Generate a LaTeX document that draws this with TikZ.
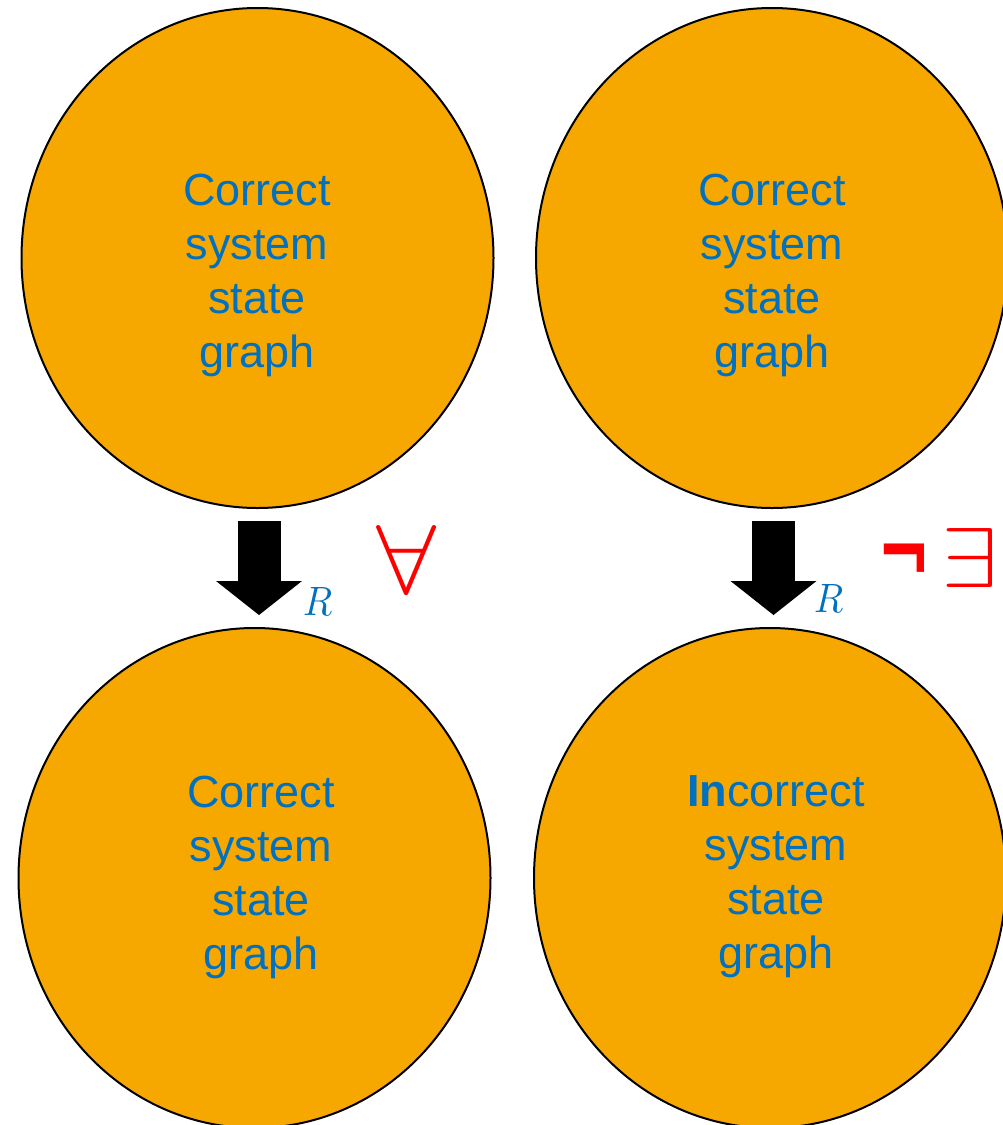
\documentclass[tikz,border=0pt]{standalone}
\usepackage{fontspec}
\setmainfont{Liberation Sans}
\newfontfamily\djv{DejaVu Sans}
\usepackage{graphicx}
\usetikzlibrary{shapes.geometric,arrows.meta}
\definecolor{orfill}{RGB}{246,168,0}
\definecolor{txtblue}{RGB}{0,112,192}
\definecolor{sigred}{RGB}{255,0,0}
\tikzset{
  stategraph/.style={ellipse,draw=black,line width=2pt,fill=orfill,inner sep=0pt,
    minimum width=472pt,minimum height=500pt},
  graphtext/.style={align=center,text=txtblue,inner sep=0pt,
    font=\fontsize{45}{54}\selectfont},
  blockarrow/.style={line width=43pt,draw=black,
    -{Triangle[width=86pt,length=34pt,line width=0pt]},
    shorten <=12pt,shorten >=12pt},
  rlabel/.style={text=txtblue,inner sep=0pt,anchor=base west},
  quant/.style={text=sigred,inner sep=0pt}
}
\begin{document}
\begin{tikzpicture}[x=1pt,y=-1pt]
\useasboundingbox (0,0) rectangle (1003,1125);
% ellipses
\node[stategraph] (tl) at (257.5,258) {};
\node[stategraph] (tr) at (772,258) {};
\node[stategraph] (bl) at (254.5,878) {};
\node[stategraph] (br) at (770,878) {};
% texts
\node[graphtext] (ttl) at (257,275) {Correct\\system\\state\\graph};
\node[graphtext] (ttr) at (772,275) {Correct\\system\\state\\graph};
\node[graphtext] (tbl) at (261,877) {Correct\\system\\state\\graph};
\node[graphtext] (tbr) at (776,877) {\textbf{In}correct\\system\\state\\graph};
% block arrows
\draw[blockarrow] ([xshift=1.5pt]tl.south) -- ([xshift=4.5pt]bl.north);
\draw[blockarrow] ([xshift=1.5pt]tr.south) -- ([xshift=3.5pt]br.north);
% R labels
\node[rlabel] (rl) at (303,615) {\scalebox{3.8}[4.1]{$R$}};
\node[rlabel] (rr) at (814,612) {\scalebox{3.8}[4.1]{$R$}};
% quantifier labels
\node[quant,anchor=base] (fa) at (406.5,593) {\scalebox{10.8}[9.8]{$\forall$}};
\node[quant,anchor=base] (ng) at (904,585) {\scalebox{1.07}[1.56]{\djv\bfseries\fontsize{60}{60}\selectfont ¬}};
\node[quant,anchor=base] (ex) at (970,587) {\scalebox{10.2}[8.5]{$\exists$}};
\end{tikzpicture}
\end{document}
